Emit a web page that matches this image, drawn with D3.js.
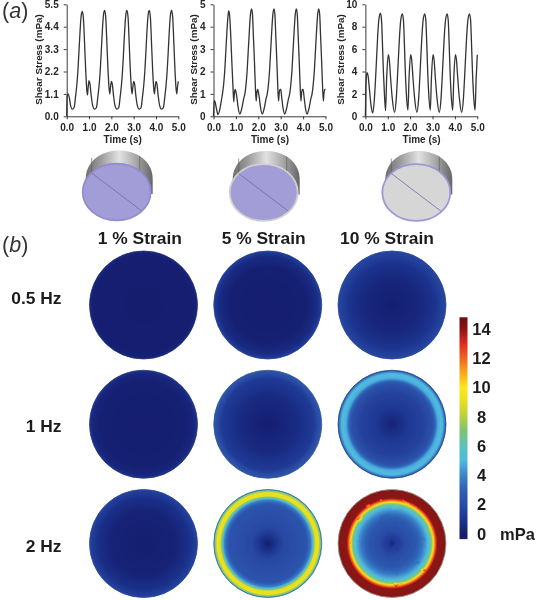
<!DOCTYPE html>
<html>
<head>
<meta charset="utf-8">
<script src="https://cdn.jsdelivr.net/npm/d3@7"></script>
<style>
  html, body { margin: 0; padding: 0; background: #fff; }
  svg { display: block; font-family: "Liberation Sans", Arial, sans-serif; filter: blur(0.4px); }
</style>
</head>
<body>
<script>
// shear stress traces in panel (a)
const timeA = [0,.02,.07,.12,.18,.25,.33,.40,.45,.50,.55,.60,.65,.70,.75,.80,.85,.90,.93,.96,
  1.00,1.04,1.10,1.16,1.25,1.33,1.40,1.45,1.50,1.55,1.60,1.65,1.70,1.75,1.80,1.85,1.90,1.93,1.96,
  2.00,2.04,2.10,2.16,2.25,2.33,2.40,2.45,2.50,2.55,2.60,2.65,2.70,2.75,2.80,2.85,2.90,2.93,2.96,
  3.00,3.04,3.10,3.16,3.25,3.33,3.40,3.45,3.50,3.55,3.60,3.65,3.70,3.75,3.80,3.85,3.90,3.93,3.96,
  4.00,4.04,4.10,4.16,4.25,4.33,4.40,4.45,4.50,4.55,4.60,4.65,4.70,4.75,4.80,4.85,4.90,4.93,4.96,5.00];
const stressA = [0,1.0,1.1,.9,.5,.35,.42,1.0,1.5,2.2,3.2,4.2,4.95,5.15,4.8,3.6,2.3,1.3,1.05,1.4,
  1.75,1.6,1.0,.55,.35,.42,1.0,1.5,2.2,3.2,4.25,5.0,5.2,4.85,3.6,2.3,1.35,1.1,1.4,
  1.72,1.6,1.0,.55,.35,.42,1.0,1.5,2.2,3.2,4.25,5.0,5.2,4.85,3.6,2.3,1.35,1.1,1.4,
  1.72,1.6,1.0,.55,.35,.42,1.0,1.5,2.2,3.2,4.25,5.0,5.2,4.85,3.6,2.3,1.35,1.1,1.4,
  1.72,1.6,1.0,.55,.35,.42,1.0,1.5,2.2,3.2,4.25,5.0,5.2,4.85,3.6,2.3,1.35,1.1,1.4,1.72];

const timeB = [0,.03,.07,.12,.20,.28,.35,.40,.45,.50,.55,.60,.65,.68,.72,.77,.82,.87,.905,.93,.97,
  1.00,1.05,1.10,1.18,1.25,1.35,1.40,1.45,1.50,1.55,1.60,1.65,1.70,1.74,1.78,1.83,1.87,1.905,1.93,1.97,
  2.00,2.05,2.10,2.18,2.25,2.35,2.40,2.45,2.50,2.55,2.60,2.65,2.70,2.74,2.78,2.83,2.87,2.905,2.93,2.97,
  3.00,3.05,3.10,3.18,3.25,3.35,3.40,3.45,3.50,3.55,3.60,3.65,3.70,3.74,3.78,3.83,3.87,3.905,3.93,3.97,
  4.00,4.05,4.10,4.18,4.25,4.35,4.40,4.45,4.50,4.55,4.60,4.65,4.70,4.74,4.78,4.83,4.87,4.905,4.93,4.97,5.00];
const stressB = [0,.7,.65,.4,.08,.3,.7,1.0,1.4,2.0,2.9,3.8,4.5,4.7,4.5,3.6,2.4,1.3,.65,1.0,1.2,
  1.1,.8,.4,.1,.3,.8,1.0,1.4,2.0,2.9,3.8,4.55,4.8,4.55,3.6,2.4,1.3,.68,1.0,1.2,
  1.1,.8,.4,.1,.3,.8,1.0,1.4,2.0,2.9,3.8,4.55,4.8,4.55,3.6,2.4,1.3,.68,1.0,1.2,
  1.2,.8,.4,.1,.3,.8,1.0,1.4,2.0,2.9,3.8,4.55,4.8,4.55,3.6,2.4,1.3,.68,1.0,1.2,
  1.2,.8,.4,.1,.3,.8,1.0,1.4,2.0,2.9,3.8,4.55,4.8,4.55,3.6,2.4,1.3,.68,1.0,1.2,1.2];

const timeC = [0,.03,.07,.12,.18,.25,.33,.40,.45,.50,.55,.60,.67,.72,.76,.80,.85,.90,.95,
  1.02,1.07,1.12,1.20,1.30,1.38,1.43,1.48,1.53,1.58,1.65,1.70,1.74,1.78,1.83,1.90,1.95,
  2.02,2.07,2.12,2.20,2.30,2.38,2.43,2.48,2.53,2.58,2.65,2.70,2.74,2.78,2.83,2.90,2.95,
  3.02,3.07,3.12,3.20,3.30,3.38,3.43,3.48,3.53,3.58,3.65,3.70,3.74,3.78,3.83,3.90,3.95,
  4.02,4.07,4.12,4.20,4.30,4.38,4.43,4.48,4.53,4.58,4.65,4.70,4.74,4.78,4.83,4.90,4.95,5.00];
const stressC = [0,3.2,3.9,3.6,2.4,1.0,.3,1.5,3.2,5.2,7.2,8.6,9.2,8.6,6.6,4.2,2.0,.5,3.4,
  5.5,5.0,3.6,1.6,.35,1.6,3.4,5.4,7.3,8.6,9.15,8.6,6.6,4.2,2.0,.55,3.4,
  5.5,5.0,3.6,1.6,.35,1.6,3.4,5.4,7.3,8.6,9.15,8.6,6.6,4.2,2.0,.55,3.4,
  5.5,5.0,3.6,1.6,.35,1.6,3.4,5.4,7.3,8.6,9.15,8.6,6.6,4.2,2.0,.55,3.4,
  5.5,5.0,3.6,1.6,.35,1.6,3.4,5.4,7.3,8.6,9.15,8.6,6.6,4.2,2.0,.55,3.4,5.5];

const timeTicks = [0, 1, 2, 3, 4, 5];
const yTicksA = [0, 1.1, 2.2, 3.3, 4.4, 5.5];
const yTicksB = [0, 1, 2, 3, 4, 5];
const yTicksC = [0, 2, 4, 6, 8, 10];

// panel (b): radial profile of each disk, radius fraction -> mPa
const strains = ['1 % Strain', '5 % Strain', '10 % Strain'];
const freqs = ['0.5 Hz', '1 Hz', '2 Hz'];
const radii = [
  [[0,.85,.95,1], [0,.7,.9,1], [0,.5,.8,1]],
  [[0,.8,.93,1], [0,.5,.85,1], [0,.3,.6,.74,.8,.85,.93,.975,1]],
  [[0,.6,.85,1], [0,.12,.3,.72,.81,.85,.88,.94,.975,1], [0,.08,.25,.45,.56,.66,.73,.77,.8,.84,.97,1]]
];
const shear = [
  [[.08,.12,.2,.5], [.1,.2,.6,1.4], [.12,.45,.95,1.8]],
  [[.1,.2,.4,.9], [.12,.55,1.2,2.6], [.3,1.1,1.6,2.2,3.2,4.8,5.2,3.8,2.0]],
  [[.12,.3,.8,1.6], [.1,.8,1.8,2.4,4.0,6.5,9,9.3,7,3.4], [.4,1.2,2.0,2.7,3.6,4.9,6.8,10,12,14,14.2,14.2]]
];
const edgeColors = [
  ['#24307a', '#2c4490', '#2c4a96'],
  ['#2b3a80', '#3a6090', '#2a4a88'],
  ['#2f4a8c', '#3f7a88', '#a8a890']
];

// colour bar
const colorValues = [0, 1, 2, 3, 4, 5, 6, 7, 8, 9, 10, 11, 12, 13, 14, 15];
const colorRange = ['#141b6c', '#1c3590', '#2a4ca6', '#2e5fb5', '#3a85c8', '#4fb8e0', '#5dc2bc', '#7cc474',
  '#b4cf45', '#e6de22', '#fbe81a', '#f9a81c', '#f2651f', '#df2b20', '#8c1414', '#6a100e'];
const barTicks = [0, 2, 4, 6, 8, 10, 12, 14];

const svg = d3.select('body').append('svg').attr('width', 536).attr('height', 600);
const defs = svg.append('defs');
const ink = '#262626';

// ---- panel a: line plots
const plots = [
  { time: timeA, stress: stressA, left: 66.7, right: 178.3, yMax: 5.5, ticks: yTicksA, fmt: d3.format('.1f'), titleX: 39 },
  { time: timeB, stress: stressB, left: 213.5, right: 325.5, yMax: 5, ticks: yTicksB, fmt: d3.format('d'), titleX: 194 },
  { time: timeC, stress: stressC, left: 365.4, right: 477.3, yMax: 10, ticks: yTicksC, fmt: d3.format('d'), titleX: 341 }
];

plots.forEach(function(p) {
  let x = d3.scaleLinear().domain([0, 5]).range([p.left, p.right]);
  let y = d3.scaleLinear().domain([0, p.yMax]).range([116.3, 4.3]);

  let xAxis = svg.append('g').attr('transform', 'translate(0,116.3)')
    .call(d3.axisBottom(x).tickValues(timeTicks).tickFormat(d3.format('.1f')).tickSize(3).tickSizeOuter(0).tickPadding(5));
  let yAxis = svg.append('g').attr('transform', 'translate(' + p.left + ',0)')
    .call(d3.axisLeft(y).tickValues(p.ticks).tickFormat(p.fmt).tickSize(3).tickSizeOuter(0).tickPadding(5));

  [xAxis, yAxis].forEach(function(a) {
    a.selectAll('path,line').attr('stroke', ink).attr('stroke-width', 0.9);
    a.selectAll('text').attr('fill', ink).style('font-size', '10px').style('font-weight', 'bold')
      .style('font-family', '"Liberation Sans", Arial, sans-serif');
  });

  let line = d3.line().x(d => x(d[0])).y(d => y(d[1])).curve(d3.curveMonotoneX);
  svg.append('path')
    .attr('d', line(d3.zip(p.time, p.stress)))
    .attr('fill', 'none')
    .attr('stroke', '#333')
    .attr('stroke-width', 1.3);

  svg.append('text')
    .attr('transform', 'translate(' + (p.titleX + 2.5) + ',59.5) rotate(-90)')
    .attr('text-anchor', 'middle')
    .attr('fill', ink).style('font-size', '9.9px').style('font-weight', 'bold')
    .text('Shear Stress (mPa)');

  svg.append('text')
    .attr('x', (p.left + p.right) / 2 + (p === plots[1] ? 0.5 : 0.2))
    .attr('y', 143)
    .attr('text-anchor', 'middle')
    .attr('fill', ink).style('font-size', '10px').style('font-weight', 'bold')
    .text('Time (s)');
});

// ---- cylinder sketches under the plots
let bodyGrad = defs.append('linearGradient').attr('id', 'cylBody');
[['0%', '#6f6f6f'], ['22%', '#9a9a9a'], ['50%', '#e2e2e2'], ['75%', '#a8a8a8'], ['100%', '#666']].forEach(function(s) {
  bodyGrad.append('stop').attr('offset', s[0]).attr('stop-color', s[1]);
});

const cylinders = [
  { cx: 116.7, cy: 192, fill: '#a29dd6', edge: '#918bcf' },
  { cx: 263.7, cy: 192.5, fill: '#a29dd6', edge: '#d0d0d0' },
  { cx: 416.3, cy: 192.5, fill: '#d6d6d6', edge: '#9c97d8' }
];
cylinders.forEach(function(c) {
  let g = svg.append('g').attr('transform', 'translate(' + c.cx + ',' + c.cy + ')');
  g.append('path')
    .attr('d', 'M-31,2 V-13 C-31,-31 -15,-41.5 2.5,-41.5 C20,-41.5 36,-31 36,-13 V2 Z')
    .attr('fill', 'url(#cylBody)');
  g.append('line').attr('x1', -25).attr('y1', -34).attr('x2', -25).attr('y2', -15).attr('stroke', '#555').attr('stroke-width', 0.6);
  g.append('line').attr('x1', 23).attr('y1', -36).attr('x2', 23).attr('y2', -18).attr('stroke', '#555').attr('stroke-width', 0.6);
  g.append('ellipse').attr('rx', 34).attr('ry', 28.4)
    .attr('fill', c.fill).attr('stroke', c.edge).attr('stroke-width', 1.8);
  g.append('line').attr('x1', -25).attr('y1', -19).attr('x2', 24.5).attr('y2', 18.5)
    .attr('stroke', '#6f6f98').attr('stroke-width', 0.8);
});

// ---- panel b: disks
const color = d3.scaleLinear().domain(colorValues).range(colorRange).clamp(true);
const colX = d3.scalePoint().domain(strains).range([143.5, 392]);
const rowY = d3.scalePoint().domain(freqs).range([305, 543.5]);
const diskR = 54;

// the 2 Hz / 10 % disk has a rough mesh look in the ring edges
let rough = defs.append('filter').attr('id', 'rough').attr('x', '-5%').attr('y', '-5%').attr('width', '110%').attr('height', '110%');
rough.append('feTurbulence').attr('type', 'fractalNoise').attr('baseFrequency', 0.09).attr('numOctaves', 2).attr('seed', 4).attr('result', 'n');
rough.append('feDisplacementMap').attr('in', 'SourceGraphic').attr('in2', 'n').attr('scale', 2.5);
let roughClip = defs.append('clipPath').attr('id', 'roughClip');
roughClip.append('circle').attr('cx', colX(strains[2])).attr('cy', rowY(freqs[2])).attr('r', diskR);

freqs.forEach(function(freq, i) {
  strains.forEach(function(strain, j) {
    let id = 'disk' + i + j;
    let profile = d3.scaleLinear().domain(radii[i][j]).range(shear[i][j]);
    let grad = defs.append('radialGradient').attr('id', id);
    d3.range(0, 1.001, 0.02).forEach(function(f) {
      grad.append('stop').attr('offset', f).attr('stop-color', color(profile(f)));
    });
    let isRough = i === 2 && j === 2;
    let holder = svg.append('g');
    if (isRough) {
      holder.attr('clip-path', 'url(#roughClip)');
      holder.append('circle').attr('cx', colX(strain)).attr('cy', rowY(freq)).attr('r', diskR + 4)
        .attr('fill', color(14.2));
    }
    holder.append('circle')
      .attr('cx', colX(strain)).attr('cy', rowY(freq)).attr('r', diskR)
      .attr('fill', 'url(#' + id + ')')
      .attr('filter', isRough ? 'url(#rough)' : null);
    svg.append('circle')
      .attr('cx', colX(strain)).attr('cy', rowY(freq)).attr('r', diskR)
      .attr('fill', 'none')
      .attr('stroke', edgeColors[i][j]).attr('stroke-width', 0.8);
  });
});

const stageX = [139.8, 263.7, 387];
strains.forEach(function(s, j) {
  svg.append('text').attr('x', stageX[j]).attr('y', 244).attr('text-anchor', 'middle')
    .attr('fill', '#1c1c1c').style('font-size', '17.4px').style('font-weight', 'bold').text(s);
});
const rowBase = [304, 432, 552];
freqs.forEach(function(f, i) {
  svg.append('text').attr('x', 61.5).attr('y', rowBase[i]).attr('text-anchor', 'end')
    .attr('fill', '#1c1c1c').style('font-size', '17.4px').style('font-weight', 'bold').text(f);
});

// panel letters
[['a', 17.5], ['b', 252]].forEach(function(l) {
  let t = svg.append('text').attr('x', 2).attr('y', l[1]).attr('fill', '#333').style('font-size', '21.5px');
  t.append('tspan').text('(');
  t.append('tspan').style('font-style', 'italic').text(l[0]);
  t.append('tspan').text(')');
});

// ---- colour bar
const barScale = d3.scaleLinear().domain([0, 14]).range([534, 329]);
const barGrad = defs.append('linearGradient').attr('id', 'barGrad')
  .attr('x1', 0).attr('y1', 1).attr('x2', 0).attr('y2', 0);
colorValues.forEach(function(v, k) {
  barGrad.append('stop')
    .attr('offset', (barScale(-0.35) - barScale(v)) / (barScale(-0.35) - barScale(14.8)))
    .attr('stop-color', colorRange[k]);
});
svg.append('rect')
  .attr('x', 459.5).attr('width', 8)
  .attr('y', barScale(14.8)).attr('height', barScale(-0.35) - barScale(14.8))
  .attr('fill', 'url(#barGrad)');

let barAxis = svg.append('g').attr('transform', 'translate(467.5,0)')
  .call(d3.axisRight(barScale).tickValues(barTicks).tickSize(0).tickPadding(14));
barAxis.select('.domain').remove();
barAxis.selectAll('text').attr('text-anchor', 'middle').attr('fill', '#1c1c1c')
  .style('font-size', '16.5px').style('font-weight', 'bold')
  .style('font-family', '"Liberation Sans", Arial, sans-serif');
svg.append('text').attr('x', 500).attr('y', 539.5).attr('fill', '#1c1c1c')
  .style('font-size', '16.5px').style('font-weight', 'bold').text('mPa');
</script>
</body>
</html>
